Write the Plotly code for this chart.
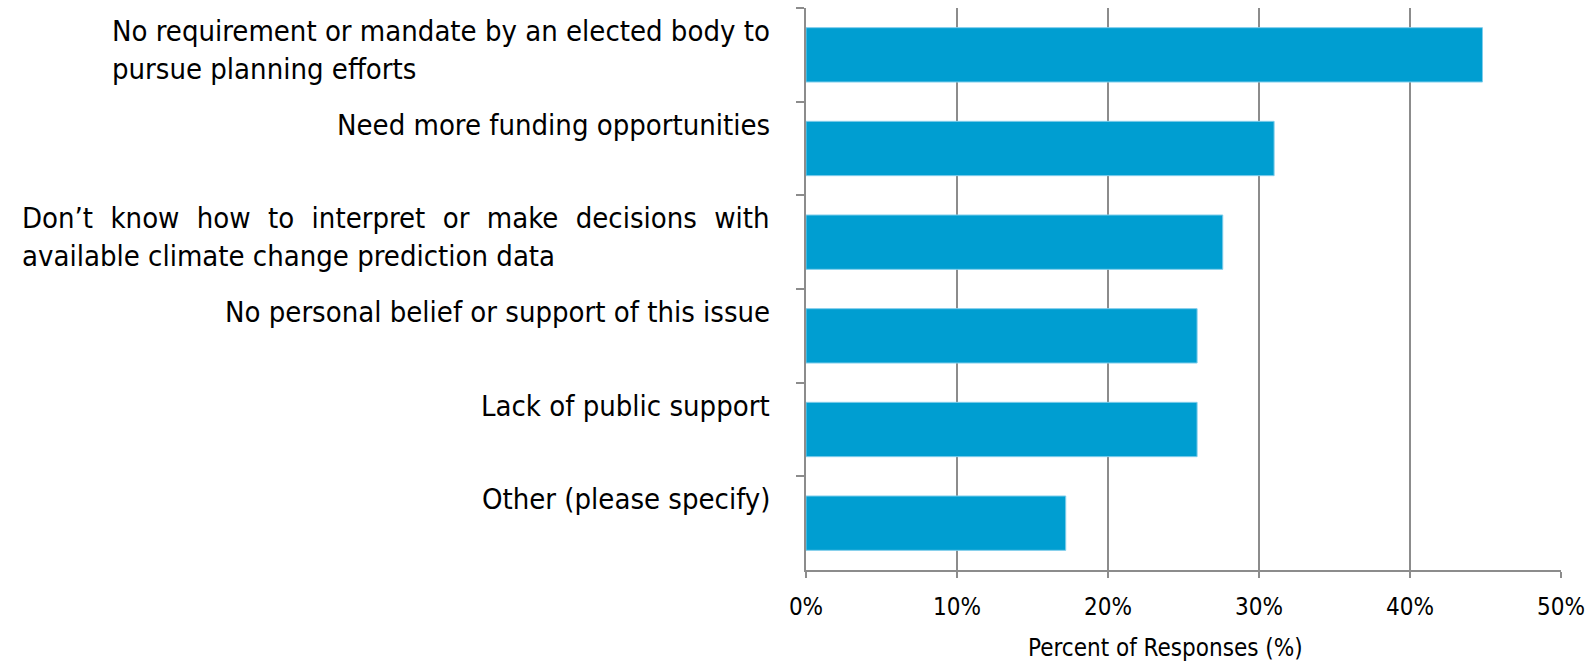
import plotly.graph_objects as go

# Survey barriers and share of respondents citing each (percent)
categories = [
    "No requirement or mandate by an elected body to<br>pursue planning efforts",
    "Need more funding opportunities",
    "Don’t know how to interpret or make decisions with<br>available climate change prediction data",
    "No personal belief or support of this issue",
    "Lack of public support",
    "Other (please specify)",
]
values = [44.8, 31.0, 27.6, 25.9, 25.9, 17.2]
x_ticks = [0, 10, 20, 30, 40, 50]
x_tick_labels = ["0%", "10%", "20%", "30%", "40%", "50%"]
x_title = "Percent of Responses (%)"

# labels whose first line is set justified (stretched to the block width)
justified = {2}

FONT = "DejaVu Sans Condensed, sans-serif"
GRID = "#8c8c8c"
BAR = "#009ed1"


def display_text(i, label):
    if i not in justified:
        return label
    first, rest = label.split("<br>", 1)
    return first.replace(" ", "\u2002\u2006") + "<br>" + rest


fig = go.Figure(
    go.Bar(
        x=values,
        y=categories,
        orientation="h",
        width=0.58,
        marker=dict(color=BAR, line=dict(color="#7fcdeb", width=1)),
        hoverinfo="x",
    )
)

# Category labels as annotations so wrapped lines stay left-aligned
for i, label in enumerate(categories):
    two_lines = "<br>" in label
    fig.add_annotation(
        x=0, xref="paper", y=label, yref="y",
        xanchor="right", yanchor="middle", xshift=-34,
        yshift=5 if two_lines else 24,
        text=display_text(i, label), showarrow=False, align="left",
        font=dict(family=FONT, size=29, color="black"),
    )

fig.add_annotation(
    x=0.476, xref="paper", y=0, yref="paper", yanchor="top", yshift=-62,
    text=x_title, showarrow=False,
    font=dict(family=FONT, size=24, color="black"),
)

fig.update_layout(
    width=1593, height=661,
    margin=dict(l=806, r=30, t=8, b=91),
    plot_bgcolor="white", paper_bgcolor="white",
    showlegend=False,
    bargap=0.42,
    xaxis=dict(
        range=[0, 50], tickvals=x_ticks, ticktext=x_tick_labels,
        showgrid=True, gridcolor=GRID, gridwidth=1.5,
        zeroline=False, showline=True, linecolor=GRID, linewidth=1.5,
        ticks="outside", ticklen=6, tickcolor=GRID, tickwidth=1.5,
        ticklabelstandoff=8,
        tickfont=dict(family=FONT, size=24, color="black"),
    ),
    yaxis=dict(
        type="category", categoryorder="array", categoryarray=categories,
        range=[len(categories) - 0.5, -0.5],
        showticklabels=False, showgrid=False, zeroline=False,
        showline=True, linecolor=GRID, linewidth=1.5,
        ticks="outside", tickson="boundaries", ticklen=8,
        tickcolor=GRID, tickwidth=1.5, fixedrange=True,
    ),
)

fig.write_html("out.html")
